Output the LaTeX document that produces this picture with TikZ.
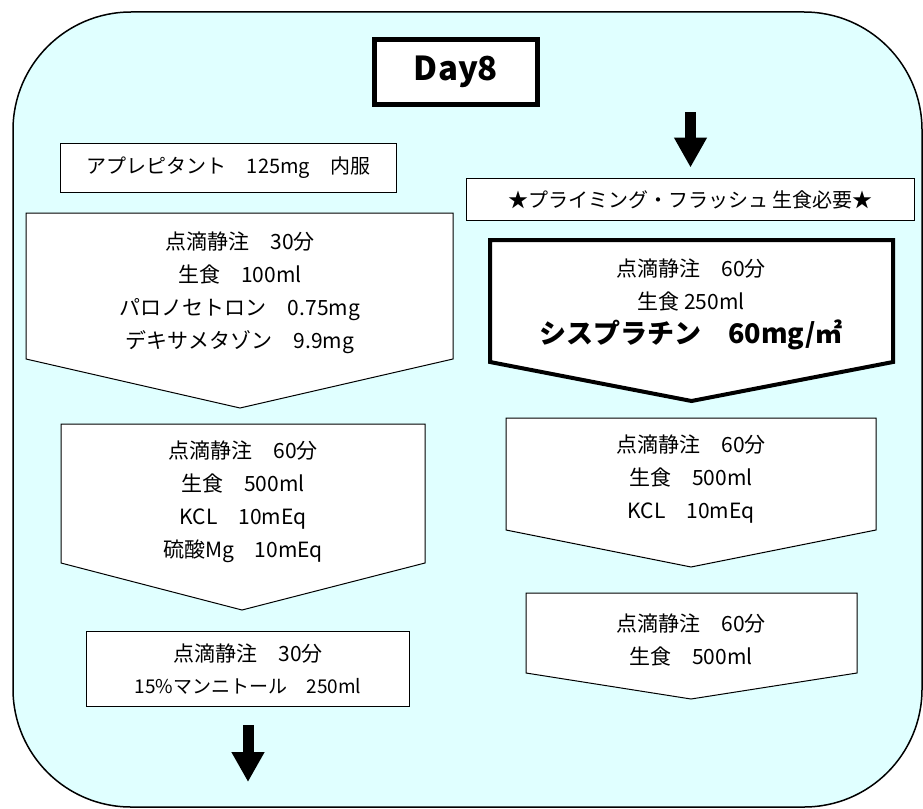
\documentclass[tikz,border=0pt]{standalone}
\usepackage{fontspec}
\setmainfont{Noto Sans CJK JP}
\usepackage{xcolor}
\usetikzlibrary{positioning,arrows.meta}

\definecolor{bgcyan}{RGB}{224,255,255}

\begin{document}
\begin{tikzpicture}[x=1pt,y=1pt]
\tikzstyle{every node}+=[inner sep=0pt, align=center, font=\fontsize{21}{33}\selectfont]
\tikzstyle{box}=[draw=black, fill=white, line width=1pt]
\tikzstyle{pent}=[draw=black, fill=white, line width=1pt, line join=miter]
\tikzstyle{bigarrow}=[black, line width=11pt, -{Triangle[width=31pt,length=30pt]}]
\useasboundingbox (0,0) rectangle (923,-808);
% background panel
\draw [black, line width=1.5pt, fill=bgcyan, rounded corners=118pt] (13,-12) rectangle (922,-807);
% title
\node [box, line width=5pt, minimum width=163pt, minimum height=65pt, font=\bfseries\fontsize{33}{40}\selectfont] (day) at (456,-72) {Day8};
% left column
\node [box, minimum width=336pt, minimum height=49pt, font=\fontsize{20}{24}\selectfont] (aprep) at (228.5,-168) {アプレピタント　125mg　内服};
\draw [pent] (26,-213) -- (453,-213) -- (453,-359) -- (240,-408) -- (26,-359) -- cycle;
\node (drip1) at (240,-293) {点滴静注　30分\\生食　100ml\\パロノセトロン　0.75mg\\デキサメタゾン　9.9mg};
\draw [pent] (61,-424) -- (425,-424) -- (425,-563) -- (242,-610) -- (61,-563) -- cycle;
\node (drip2) at (243,-502) {点滴静注　60分\\生食　500ml\\KCL　10mEq\\硫酸Mg　10mEq};
\node [box, minimum width=323pt, minimum height=75pt, font=\fontsize{21}{32}\selectfont] (mann) at (248,-669) {点滴静注　30分\\{\fontsize{19}{20}\selectfont 15\%マンニトール　250ml}};
\coordinate (endl) at (248,-782);
\draw [bigarrow, shorten <=18pt] (mann.south) -- (endl);
% right column
\coordinate (topr) at (690.5,-112);
\node [box, minimum width=448pt, minimum height=42pt, font=\fontsize{20}{24}\selectfont] (flush) at (690.5,-199.5) {★プライミング・フラッシュ 生食必要★};
\draw [bigarrow, shorten >=10.5pt] (topr) -- (flush.north);
\draw [pent, line width=4pt] (490,-240) -- (893,-240) -- (893,-362) -- (691.5,-401) -- (490,-362) -- cycle;
\node (cis) at (691,-304) {点滴静注　60分\\生食 250ml\\[1pt]{\bfseries\fontsize{27}{34}\selectfont シスプラチン　60mg/㎡}};
\draw [pent] (506,-418) -- (876,-418) -- (876,-530) -- (691,-567) -- (506,-530) -- cycle;
\node (drip3) at (691,-479) {点滴静注　60分\\生食　500ml\\KCL　10mEq};
\draw [pent] (526,-593) -- (857,-593) -- (857,-673) -- (691,-699) -- (526,-673) -- cycle;
\node (drip4) at (691,-640) {点滴静注　60分\\生食　500ml};
\end{tikzpicture}
\end{document}
